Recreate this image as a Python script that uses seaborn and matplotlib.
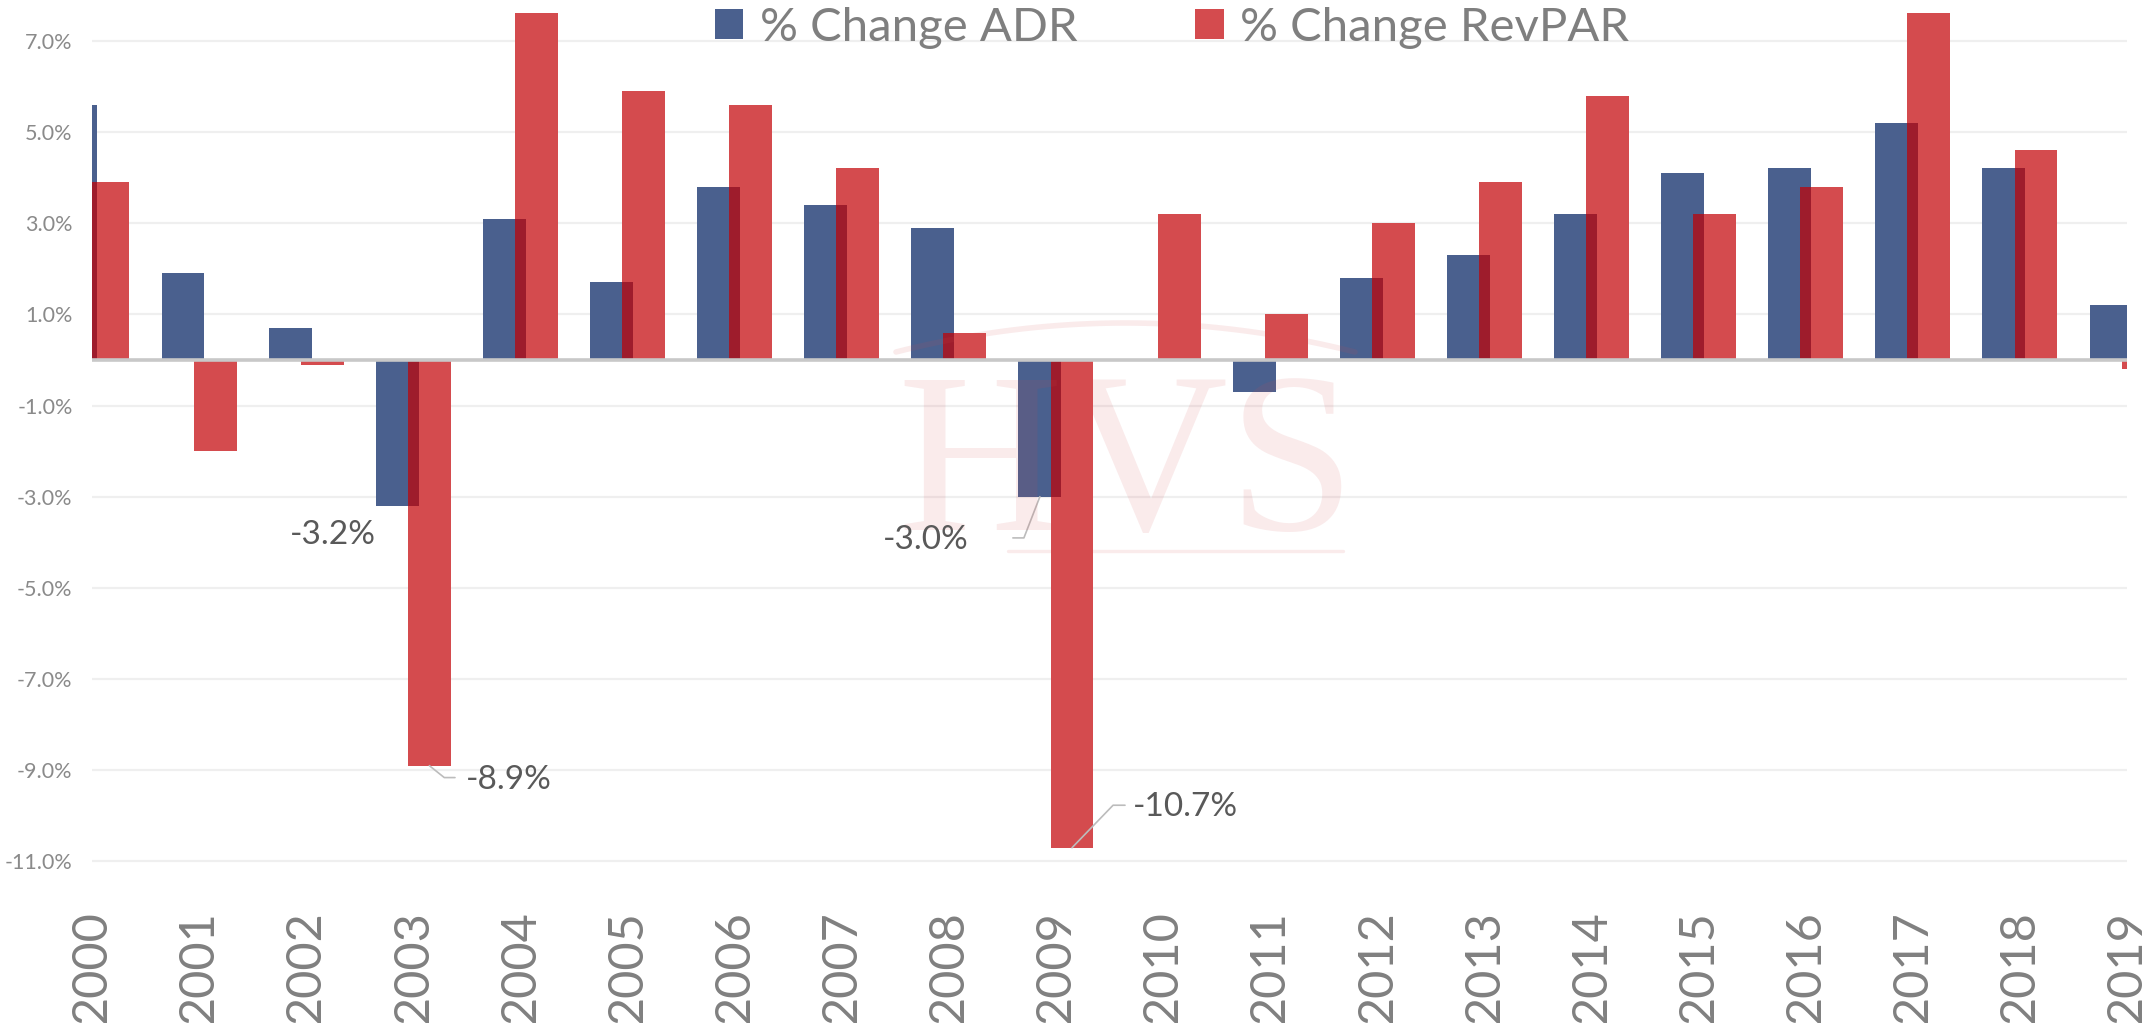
import numpy as np
import pandas as pd
import matplotlib
matplotlib.use("Agg")
import matplotlib.pyplot as plt
import seaborn as sns
from matplotlib.ticker import FuncFormatter
from matplotlib.lines import Line2D

# ---------------- data ----------------
years = [str(y) for y in range(2000, 2020)]
adr_change = [5.6, 1.9, 0.7, -3.2, 3.1, 1.7, 3.8, 3.4, 2.9, -3.0,
              0.0, -0.7, 1.8, 2.3, 3.2, 4.1, 4.2, 5.2, 4.2, 1.2]
revpar_change = [3.9, -2.0, -0.1, -8.9, 7.6, 5.9, 5.6, 4.2, 0.6, -10.7,
                 3.2, 1.0, 3.0, 3.9, 5.8, 3.2, 3.8, 7.6, 4.6, -0.2]
series_names = ["% Change ADR", "% Change RevPAR"]
y_ticks = [-11, -9, -7, -5, -3, -1, 1, 3, 5, 7]
# labelled points: (series index, year)
labelled = [(0, "2003"), (1, "2003"), (0, "2009"), (1, "2009")]

# ---------------- style ----------------
sns.set_theme(style="white")
plt.rcParams["font.family"] = ["Lato", "DejaVu Sans"]

W, H = 2151, 1023
fig = plt.figure(figsize=(W / 100, H / 100), dpi=100)
ax_left, ax_right, ax_top, ax_bottom = 92, 2127, 11.2, 907
ax = fig.add_axes([ax_left / W, (H - ax_bottom) / H,
                   (ax_right - ax_left) / W, (ax_bottom - ax_top) / H])

colors = {"% Change ADR": "#4a608e", "% Change RevPAR": "#d44b4e"}
overlap_color = "#9e1c2c"

df = pd.DataFrame({
    "year": years * 2,
    "value": adr_change + revpar_change,
    "series": [series_names[0]] * len(years) + [series_names[1]] * len(years),
})

sns.barplot(data=df, x="year", y="value", hue="series", hue_order=series_names,
            order=years, palette=colors, width=0.6, gap=-1 / 3, dodge=True,
            saturation=1, errorbar=None, ax=ax, zorder=2, linewidth=0)

# overlapping part of the two bars (dark red)
overlap = [np.sign(a) * min(abs(a), abs(r)) if a * r > 0 else 0.0
           for a, r in zip(adr_change, revpar_change)]
sns.barplot(x=years, y=overlap, order=years, width=0.1, color=overlap_color,
            saturation=1, errorbar=None, ax=ax, zorder=3, linewidth=0)

handles, labels = ax.get_legend_handles_labels()
if ax.get_legend() is not None:
    ax.get_legend().remove()

ax.set_xlim(0, len(years) - 1)
ax.set_ylim(-12.0, 7.65)

for s in ax.spines.values():
    s.set_visible(False)
ax.set_yticks(y_ticks)
ax.yaxis.set_major_formatter(FuncFormatter(lambda v, p: f"{v:.1f}%"))
ax.yaxis.grid(True, color="#efefef", lw=1.6)
ax.xaxis.grid(False)
ax.set_axisbelow(True)
ax.axhline(0, color="#c8c8c8", lw=2.6, zorder=4)

ax.set_xticks(range(len(years)))
ax.set_xticklabels(years, rotation=90, fontsize=35, color="#808080")
ax.tick_params(axis="x", length=0, pad=2.5)
ax.tick_params(axis="y", length=0, pad=14, labelsize=15.5, labelcolor="#8a8a8a")
ax.set_xlabel("")
ax.set_ylabel("")

# ---------------- data labels ----------------
label_style = {
    (0, "2003"): dict(text=(-64, -29), ha="center", leader=None),
    (1, "2003"): dict(text=(36, -14), ha="left", leader=((25.6, -11.9), -38.6)),
    (0, "2009"): dict(text=(-71, -43), ha="right", leader=((-27, -41.2), -111.2)),
    (1, "2009"): dict(text=(61, 41), ha="left", leader=((53, 42.5), 46)),
}
series_values = [adr_change, revpar_change]
for si, yr in labelled:
    i = years.index(yr)
    v = series_values[si][i]
    x = i + (-0.15 if si == 0 else 0.15)
    st = label_style[(si, yr)]
    ax.annotate(f"{v:.1f}%", xy=(x, v), xytext=st["text"], textcoords="offset pixels",
                ha=st["ha"], va="center", fontsize=24, color="#595959", zorder=6)
    if st["leader"] is not None:
        (ex, ey), angb = st["leader"]
        ax.annotate("", xy=(x, v), xytext=(ex, ey), textcoords="offset pixels",
                    arrowprops=dict(arrowstyle="-", color="#bcbcbc", lw=1.2,
                                    shrinkA=0, shrinkB=0,
                                    connectionstyle=f"angle,angleA=0,angleB={angb},rad=0"),
                    zorder=5)

# ---------------- watermark ----------------
wm_color = "#d44b4e"
ax.text(0.5086, 0.421, "HVS", transform=ax.transAxes, ha="center", va="baseline",
        fontsize=165, family="Liberation Serif", color=wm_color, alpha=0.11, zorder=5)
t = np.linspace(0, 1, 60)
ax_pts = (1 - t) ** 2 * 896 + 2 * (1 - t) * t * 1125 + t ** 2 * 1355
ay_pts = (1 - t) ** 2 * 352 + 2 * (1 - t) * t * 294 + t ** 2 * 352
fig.add_artist(Line2D(ax_pts / W, 1 - ay_pts / H, color=wm_color, alpha=0.11, lw=4))
fig.add_artist(Line2D(np.array([1008, 1343]) / W, 1 - np.array([551, 551]) / H,
                      color=wm_color, alpha=0.11, lw=2.4))

# ---------------- legend ----------------
fig.legend(handles, labels, loc="center", bbox_to_anchor=(1172 / W, 1 - 28 / H),
           ncol=2, frameon=False, fontsize=34, handlelength=0.6, handleheight=0.6,
           handletextpad=0.35, columnspacing=2.5, labelcolor="#7f7f7f",
           borderpad=0, borderaxespad=0)

fig.savefig("out.png", dpi=100)
